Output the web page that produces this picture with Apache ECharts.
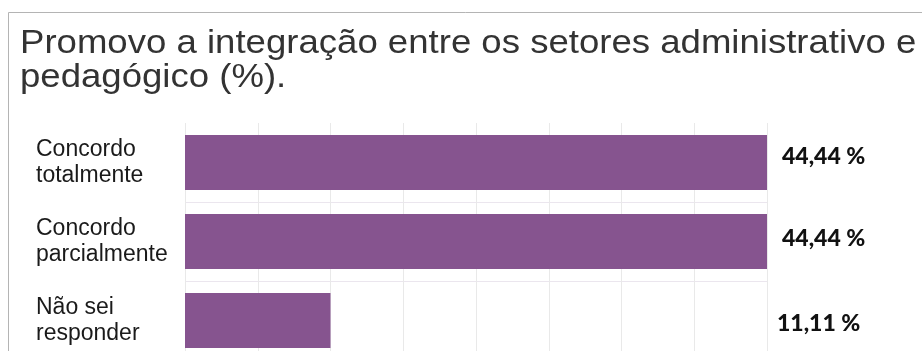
<!DOCTYPE html>
<html>
<head>
<meta charset="utf-8">
<script src="https://cdn.jsdelivr.net/npm/echarts@6/dist/echarts.min.js"></script>
<style>
  html, body { margin: 0; padding: 0; background: #ffffff; }
  #chart { width: 922px; height: 351px; }
</style>
</head>
<body>
<div id="chart"></div>
<script>
// Survey answers, one bar per response option (percent of respondents)
const categories = ['Concordo\ntotalmente', 'Concordo\nparcialmente', 'Não sei\nresponder'];
const percentages = [44.44, 44.44, 11.11];
const valueLabels = ['44,44 %', '44,44 %', '11,11 %'];
const titleText = 'Promovo a integração entre os setores administrativo e\npedagógico (%).';

// Value axis spans the largest share, split into 8 equal steps
const axisMax = Math.max(...percentages);
const axisStep = axisMax / 8;

// Small per-row nudges for the value labels column
const labelOffsets = [[0, -6], [0, -3], [-5, 3]];

const chart = echarts.init(document.getElementById('chart'), null, { renderer: 'canvas' });

chart.setOption({
  animation: false,
  backgroundColor: '#ffffff',
  graphic: [
    {
      type: 'rect',
      shape: { x: 8.5, y: 12.5, width: 940, height: 400 },
      style: { fill: 'none', stroke: '#b4b4b4', lineWidth: 1 },
      silent: true,
      z: -1
    },
    {
      // heading, drawn slightly wide
      type: 'text',
      x: 20,
      y: 27,
      scaleX: 1.108,
      silent: true,
      style: {
        text: titleText,
        fontFamily: 'Liberation Sans',
        fontSize: 33,
        lineHeight: 34,
        fill: '#333333',
        verticalAlign: 'top',
        align: 'left'
      }
    }
  ],
  grid: { left: 185, top: 123, width: 582, height: 237, containLabel: false, outerBoundsMode: 'none' },
  xAxis: {
    type: 'value',
    min: 0,
    max: axisMax,
    interval: axisStep,
    axisLine: { show: false },
    axisTick: { show: false },
    axisLabel: { show: false },
    splitLine: { show: true, lineStyle: { color: '#e9e9e9', width: 1 } }
  },
  yAxis: {
    type: 'category',
    data: categories,
    inverse: true,
    axisLine: { show: false },
    axisTick: { show: false },
    splitLine: {
      show: true,
      interval: function (i) { return i > 0; },
      lineStyle: { color: '#ebe6ee', width: 1 }
    },
    axisLabel: {
      align: 'left',
      margin: 149,
      fontFamily: 'Liberation Sans',
      fontSize: 23,
      lineHeight: 26,
      color: '#1a1a1a'
    }
  },
  series: [
    {
      name: 'percentual',
      type: 'bar',
      data: percentages,
      barWidth: 55,
      itemStyle: { color: '#86548f' },
      z: 3
    },
    {
      // transparent full-width track that carries the value labels in one column
      name: 'rótulos',
      type: 'bar',
      barGap: '-100%',
      barWidth: 55,
      silent: true,
      data: percentages.map(function (v, i) {
        return {
          value: axisMax,
          label: { offset: labelOffsets[i] }
        };
      }),
      itemStyle: { color: 'rgba(0,0,0,0)' },
      label: {
        show: true,
        position: 'right',
        distance: 15,
        formatter: function (p) { return valueLabels[p.dataIndex]; },
        fontFamily: 'Lato',
        fontWeight: 900,
        fontSize: 23,
        color: '#111111'
      },
      z: 4
    }
  ]
});
</script>
</body>
</html>
